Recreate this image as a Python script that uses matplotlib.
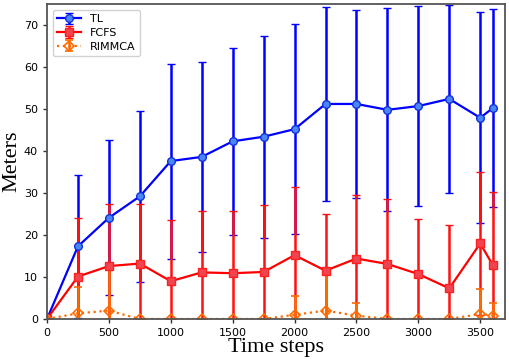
import matplotlib
matplotlib.use("Agg")
import matplotlib.pyplot as plt
import numpy as np

steps = [0, 250, 500, 750, 1000, 1250, 1500, 1750, 2000, 2250, 2500, 2750, 3000, 3250, 3500, 3600]

tl_mean = [0, 17.3, 24.1, 29.2, 37.6, 38.6, 42.3, 43.4, 45.2, 51.2, 51.2, 49.8, 50.7, 52.4, 47.9, 50.2]
tl_std = [0, 17.1, 18.5, 20.3, 23.2, 22.6, 22.2, 24.0, 25.0, 23.0, 22.4, 24.2, 23.8, 22.3, 25.1, 23.6]

fcfs_mean = [0, 10.1, 12.6, 13.2, 9.0, 11.1, 10.9, 11.2, 15.2, 11.5, 14.4, 13.1, 10.7, 7.3, 18.0, 12.9]
fcfs_std = [0, 14.0, 14.8, 14.2, 14.6, 14.6, 14.9, 15.9, 16.3, 13.4, 15.2, 15.5, 13.1, 15.2, 17.1, 17.4]

rim_mean = [0, 1.35, 2.0, 0, 0, 0, 0, 0, 1.0, 2.0, 0.8, 0, 0, 0, 1.2, 0.8]
rim_std = [0, 6.2, 10.6, 0, 0, 0, 0, 0, 4.5, 9.0, 2.9, 0, 0, 0, 5.9, 3.0]

xticks = [0, 500, 1000, 1500, 2000, 2500, 3000, 3500]
yticks = [0, 10, 20, 30, 40, 50, 60, 70]

fig = plt.figure(figsize=(5.10, 3.63), dpi=100)
ax = fig.add_axes([47/510, 1 - 319/363, (505-47)/510, (319-4)/363])

ax.errorbar(steps, tl_mean, yerr=tl_std, color='#0000ff', ecolor='#0000ff',
            marker='o', markersize=5.5, mfc='#4a86f5', mec='#1030e0', mew=1.0,
            lw=1.6, elinewidth=1.8, capsize=3, capthick=1.2, label='TL')
ax.errorbar(steps, fcfs_mean, yerr=fcfs_std, color='#ff0000', ecolor='#ff1010',
            marker='s', markersize=5.5, mfc='#f04550', mec='#ff2020', mew=1.0,
            lw=1.6, elinewidth=1.8, capsize=3, capthick=1.2, label='FCFS')
ax.errorbar(steps, rim_mean, yerr=rim_std, color='#ff6a00', ecolor='#ff6a00',
            marker='D', markersize=5.5, mfc='none', mec='#ff6a00', mew=1.2,
            lw=1.6, ls=':', elinewidth=1.8, capsize=3, capthick=1.2, label='RIMMCA')

ax.set_xlim(0, 3700)
ax.set_ylim(0, 75)
ax.set_xticks(xticks)
ax.set_yticks(yticks)
ax.tick_params(labelsize=8, length=3, width=1, color='#333333')
for s in ax.spines.values():
    s.set_color('#555555')
    s.set_linewidth(1.3)

ax.set_xlabel('Time steps', fontfamily='Liberation Serif', fontsize=16, labelpad=0)
ax.set_ylabel('Meters', fontfamily='Liberation Serif', fontsize=16, labelpad=2)

ax.legend(loc='upper left', fontsize=8, framealpha=0.9, borderpad=0.4,
          handlelength=2.2, labelspacing=0.35)

fig.savefig('out.png', dpi=100)
